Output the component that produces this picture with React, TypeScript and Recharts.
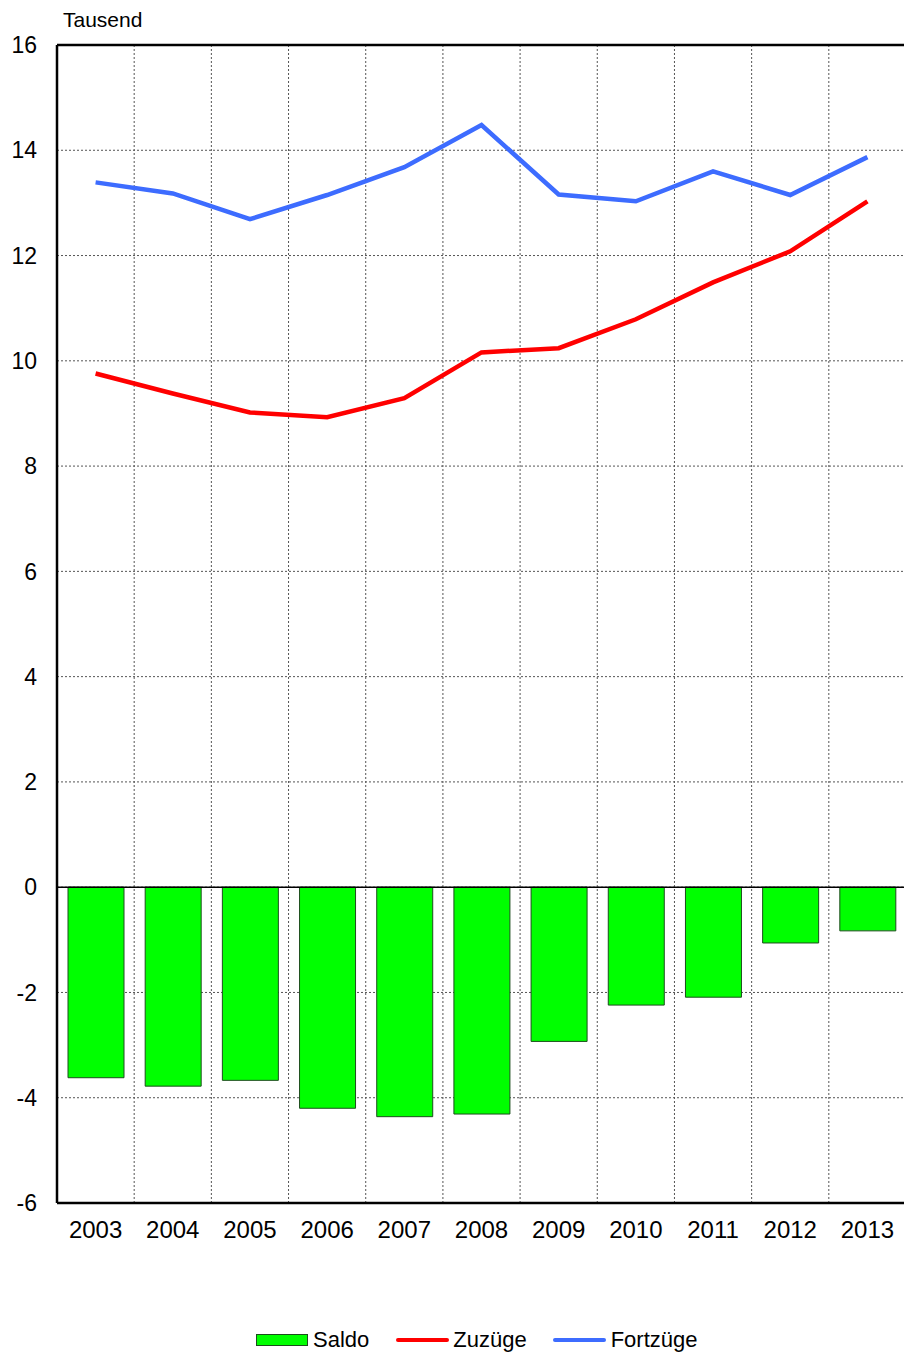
import {
  ComposedChart,
  Bar,
  Line,
  XAxis,
  YAxis,
  CartesianGrid,
  ReferenceLine,
} from 'recharts';

// Wanderungen, in Tausend
const years = ['2003', '2004', '2005', '2006', '2007', '2008', '2009', '2010', '2011', '2012', '2013'];
const saldo = [-3.62, -3.78, -3.67, -4.2, -4.36, -4.31, -2.93, -2.24, -2.09, -1.06, -0.83];
const zuzuege = [9.76, 9.38, 9.02, 8.93, 9.29, 10.16, 10.24, 10.79, 11.49, 12.08, 13.03];
const fortzuege = [13.39, 13.18, 12.69, 13.15, 13.68, 14.48, 13.16, 13.03, 13.6, 13.15, 13.87];
const yTicks = [-6, -4, -2, 0, 2, 4, 6, 8, 10, 12, 14, 16];

const FONT = '"Liberation Sans", Arial, sans-serif';
const GREEN = '#00ff00';
const RED = '#ff0000';
const BLUE = '#3d6cff';

export default function App() {
  const chartData = years.map((year, i) => ({
    year,
    saldo: saldo[i],
    zuzuege: zuzuege[i],
    fortzuege: fortzuege[i],
  }));

  return (
    <div
      style={{
        position: 'absolute',
        top: 0,
        left: 0,
        width: 904,
        height: 1353,
        overflow: 'hidden',
        background: '#fff',
        fontFamily: FONT,
      }}
    >
      <div style={{ position: 'absolute', left: 63, top: 8, fontSize: 21, color: '#000' }}>
        Tausend
      </div>

      <ComposedChart
        width={906}
        height={1353}
        data={chartData}
        margin={{ top: 45, right: 0, bottom: 0, left: 0 }}
      >
        <CartesianGrid
          stroke="#555"
          strokeDasharray="2 2"
          strokeWidth={1}
          verticalCoordinatesGenerator={({ offset }: any) =>
            years.slice(1).map((_, i) => offset.left + ((i + 1) * offset.width) / years.length)
          }
        />
        <XAxis
          dataKey="year"
          height={150}
          axisLine={{ stroke: '#000', strokeWidth: 2.5 }}
          tickLine={false}
          tickMargin={12}
          tick={{ fontSize: 24, fill: '#000', fontFamily: FONT }}
        />
        <YAxis
          width={57}
          domain={[-6, 16]}
          ticks={yTicks}
          interval={0}
          allowDataOverflow
          axisLine={{ stroke: '#000', strokeWidth: 2.5 }}
          tickLine={false}
          tickMargin={14}
          tick={{ fontSize: 23, fill: '#000', fontFamily: FONT }}
        />
        <ReferenceLine y={16} stroke="#000" strokeWidth={2.5} />

        <Bar
          dataKey="saldo"
          fill={GREEN}
          stroke="#1d4d1d"
          strokeWidth={1}
          barSize={56}
          isAnimationActive={false}
        />
        <ReferenceLine y={0} stroke="#000" strokeWidth={1.5} />
        <Line
          type="linear"
          dataKey="zuzuege"
          stroke={RED}
          strokeWidth={4.5}
          dot={false}
          isAnimationActive={false}
        />
        <Line
          type="linear"
          dataKey="fortzuege"
          stroke={BLUE}
          strokeWidth={4.5}
          dot={false}
          isAnimationActive={false}
        />
      </ComposedChart>

      {/* Legende */}
      <div
        style={{
          position: 'absolute',
          top: 1326,
          left: 256,
          display: 'flex',
          alignItems: 'center',
          fontSize: 22,
          color: '#000',
          lineHeight: '28px',
        }}
      >
        <div style={{ width: 50, height: 10, background: GREEN, border: '1px solid #1d4d1d' }} />
        <span style={{ marginLeft: 5, marginRight: 27 }}>Saldo</span>
        <div style={{ width: 53, height: 4, background: RED, borderRadius: 2 }} />
        <span style={{ marginLeft: 4, marginRight: 26 }}>Zuzüge</span>
        <div style={{ width: 53, height: 4, background: BLUE, borderRadius: 2 }} />
        <span style={{ marginLeft: 5 }}>Fortzüge</span>
      </div>
    </div>
  );
}
